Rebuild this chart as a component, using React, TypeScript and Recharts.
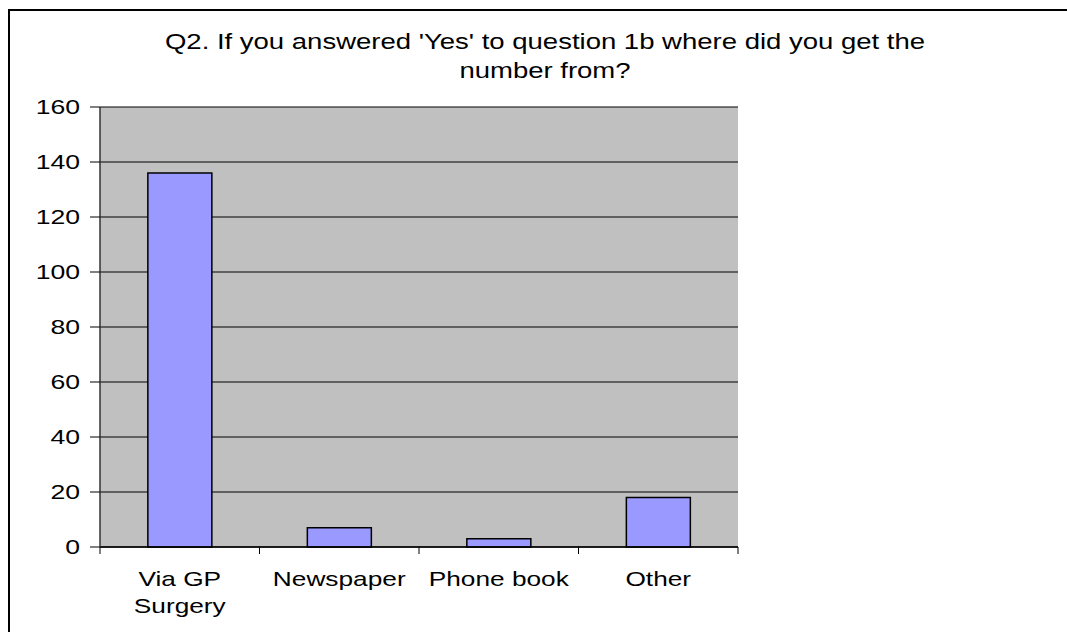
import React from 'react';
import { BarChart, Bar, XAxis, YAxis, CartesianGrid } from 'recharts';

const categories = ['Via GP\nSurgery', 'Newspaper', 'Phone book', 'Other'];
const counts = [136, 7, 3, 18];
const yTicks = [0, 20, 40, 60, 80, 100, 120, 140, 160];
const titleLines = ["Q2. If you answered 'Yes' to question 1b where did you get the", 'number from?'];

const data = categories.map((name, i) => ({ name, count: counts[i] }));

const FONT = '"Liberation Sans", Arial, sans-serif';

const YTick = (props: any) => {
  const { x, y, payload } = props;
  return (
    <text
      transform={`translate(${x},${y + 7}) scale(1.33,1)`}
      textAnchor="end"
      fontSize={20}
      fontFamily={FONT}
      fill="#000"
    >
      {payload.value}
    </text>
  );
};

const XTick = (props: any) => {
  const { x, y, payload, index } = props;
  const half = payload.offset || 0;
  const lines = String(payload.value).split('\n');
  return (
    <g>
      <line x1={x - half} x2={x - half} y1={y} y2={y + 7} stroke="#000" />
      {index === categories.length - 1 && (
        <line x1={x + half} x2={x + half} y1={y} y2={y + 7} stroke="#000" />
      )}
      {lines.map((ln, i) => (
        <text
          key={i}
          transform={`translate(${x},${y + 39 + i * 27}) scale(1.25,1)`}
          textAnchor="middle"
          fontSize={21}
          fontFamily={FONT}
          fill="#000"
        >
          {ln}
        </text>
      ))}
    </g>
  );
};

export default function App() {
  return (
    <div style={{ position: 'absolute', left: 0, top: 0, width: 1067, height: 632, overflow: 'hidden', background: '#fff' }}>
      <div
        style={{
          position: 'absolute',
          left: 8,
          top: 9,
          width: 1120,
          height: 700,
          border: '2px solid #000',
        }}
      />
      <div
        style={{
          position: 'absolute',
          left: 0,
          top: 27,
          width: 1090,
          textAlign: 'center',
          fontFamily: FONT,
          fontSize: 22,
          lineHeight: '29px',
          color: '#000',
          transform: 'scaleX(1.25)',
          transformOrigin: '545px 0',
          whiteSpace: 'nowrap',
        }}
      >
        {titleLines.map((t, i) => (
          <div key={i}>{t}</div>
        ))}
      </div>
      <div style={{ position: 'absolute', left: 0, top: 0 }}>
        <BarChart
          width={1067}
          height={632}
          data={data}
          margin={{ top: 107, right: 329, bottom: 0, left: 0 }}
          barCategoryGap="30%"
        >
          <CartesianGrid vertical={false} stroke="#000" fill="#C0C0C0" fillOpacity={1} />
          <XAxis
            dataKey="name"
            height={85}
            tickSize={0}
            tickMargin={0}
            tickLine={false}
            interval={0}
            axisLine={{ stroke: '#000', strokeWidth: 1.5 }}
            tick={<XTick />}
          />
          <XAxis
            xAxisId="top"
            dataKey="name"
            orientation="top"
            height={0}
            tick={false}
            tickLine={false}
            axisLine={{ stroke: '#808080', strokeWidth: 2 }}
          />
          <YAxis
            width={100}
            domain={[0, 160]}
            ticks={yTicks}
            interval={0}
            tickSize={10}
            tickMargin={10}
            tickLine={{ stroke: '#000' }}
            axisLine={{ stroke: '#333', strokeWidth: 1.5 }}
            tick={<YTick />}
          />
          <YAxis
            yAxisId="right"
            orientation="right"
            width={0}
            domain={[0, 160]}
            tick={false}
            tickLine={false}
            axisLine={{ stroke: '#808080', strokeWidth: 3 }}
          />
          <Bar dataKey="count" fill="#9999FF" stroke="#000" strokeWidth={1.5} isAnimationActive={false} />
        </BarChart>
      </div>
    </div>
  );
}
